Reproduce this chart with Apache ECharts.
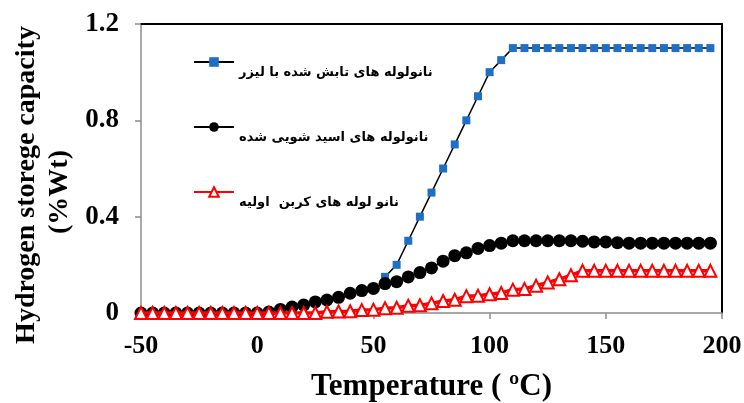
<!DOCTYPE html>
<html>
<head>
<meta charset="utf-8">
<script src="https://cdn.jsdelivr.net/npm/echarts@6/dist/echarts.min.js"></script>
<style>html,body{margin:0;padding:0;background:#fff;}#c{width:744px;height:403px;}</style>
</head>
<body>
<div id="c"></div>
<script>
// Temperature (°C) for every sample point
var temps = [-50,-45,-40,-35,-30,-25,-20,-15,-10,-5,0,5,10,15,20,25,30,35,40,45,50,55,60,65,70,75,80,85,90,95,100,105,110,115,120,125,130,135,140,145,150,155,160,165,170,175,180,185,190,195];
// Laser irradiated nanotubes (starts at 55 °C)
var laserTemps = [55,60,65,70,75,80,85,90,95,100,105,110,115,120,125,130,135,140,145,150,155,160,165,170,175,180,185,190,195];
var laserVals = [0.15,0.2,0.3,0.4,0.5,0.6,0.7,0.8,0.9,1.0,1.05,1.1,1.1,1.1,1.1,1.1,1.1,1.1,1.1,1.1,1.1,1.1,1.1,1.1,1.1,1.1,1.1,1.1,1.1];
// Acid washed nanotubes
var acidVals = [0,0,0,0,0,0,0,0,0,0,0,0.004,0.015,0.025,0.033,0.046,0.054,0.065,0.082,0.093,0.102,0.122,0.13,0.15,0.168,0.187,0.215,0.238,0.25,0.268,0.28,0.29,0.3,0.3,0.3,0.3,0.3,0.3,0.298,0.295,0.295,0.292,0.29,0.29,0.29,0.29,0.29,0.29,0.29,0.29];
// Raw carbon nanotubes
var rawVals = [0,0,0,0,0,0,0,0,0,0,0,0,0,0,0,0,0.005,0.006,0.007,0.012,0.014,0.02,0.022,0.03,0.032,0.04,0.05,0.055,0.07,0.072,0.078,0.083,0.097,0.1,0.113,0.127,0.14,0.157,0.175,0.175,0.175,0.175,0.175,0.175,0.175,0.175,0.175,0.175,0.175,0.175];
var names = ['نانولوله های تابش شده با لیزر','نانولوله های اسید شویی شده','نانو لوله های کربن  اولیه'];
var xTicks = [-50,0,50,100,150,200];
var yTicks = [0,0.4,0.8,1.2];
var xTitle = 'Temperature ( ºC)';
var yTitle1 = 'Hydrogen storege capacity';
var yTitle2 = '(%Wt)';

function pairs(xs, ys){ return xs.map(function(x,i){ return [x, ys[i]]; }); }

var serif = '"Liberation Serif","Times New Roman",serif';
var chart = echarts.init(document.getElementById('c'), null, {renderer:'canvas'});
var legendText = {fontFamily:'"DejaVu Sans",sans-serif', fontWeight:'bold', fontSize:13, color:'#000', lineHeight:22};
function leg(name, top){
  return {data:[name], left:188, top:top, orient:'vertical', itemWidth:40, itemHeight:12, itemGap:0,
    selectedMode:false, textStyle:legendText, formatter:function(n){ return '\n' + n; }};
}
chart.setOption({
  animation:false,
  grid:{left:141, right:22, top:24, bottom:90, containLabel:false, outerBoundsMode:'none'},
  legend:[leg(names[0],35), leg(names[1],100), leg(names[2],165)],
  xAxis:[{
    type:'value', min:xTicks[0], max:xTicks[xTicks.length-1], interval:50,
    name:xTitle, nameLocation:'middle', nameGap:58,
    nameTextStyle:{fontFamily:serif, fontWeight:'bold', fontSize:31, color:'#000'},
    axisLine:{show:true, onZero:false, lineStyle:{color:'#8c8c8c', width:1.5}},
    axisTick:{show:true, inside:false, length:6, lineStyle:{color:'#8c8c8c', width:1.5}},
    axisLabel:{margin:20, fontFamily:serif, fontWeight:'bold', fontSize:26, color:'#000'},
    splitLine:{show:false}
  },{
    type:'value', position:'top', min:xTicks[0], max:xTicks[xTicks.length-1],
    axisLine:{show:true, onZero:false, lineStyle:{color:'#000', width:2}},
    axisTick:{show:false}, axisLabel:{show:false}, splitLine:{show:false}
  }],
  yAxis:[{
    type:'value', min:0, max:1.2, interval:0.4,
    axisLine:{show:true, onZero:false, lineStyle:{color:'#8c8c8c', width:1.5}},
    axisTick:{show:true, inside:false, length:6, lineStyle:{color:'#8c8c8c', width:1.5}},
    axisLabel:{margin:22, fontFamily:serif, fontWeight:'bold', fontSize:27, color:'#000',
      formatter:function(v){ return v===0 ? '0' : v.toFixed(1); }},
    splitLine:{show:false}
  },{
    type:'value', position:'right', min:0, max:1.2,
    axisLine:{show:true, onZero:false, lineStyle:{color:'#000', width:2}},
    axisTick:{show:false}, axisLabel:{show:false}, splitLine:{show:false}
  }],
  graphic:[
    {type:'text', x:27, y:185, rotation:Math.PI/2, style:{text:yTitle1, fontFamily:serif, fontWeight:'bold', fontSize:28, fill:'#000', align:'center', verticalAlign:'middle'}},
    {type:'text', x:60, y:192, rotation:Math.PI/2, style:{text:yTitle2, fontFamily:serif, fontWeight:'bold', fontSize:28, fill:'#000', align:'center', verticalAlign:'middle'}}
  ],
  series:[
    {name:names[0], type:'line', data:pairs(laserTemps, laserVals), symbol:'rect', symbolSize:8,
     itemStyle:{color:'#1f6fc4'}, lineStyle:{color:'#000', width:1.5}, z:3},
    {name:names[1], type:'line', data:pairs(temps, acidVals), symbol:'circle', symbolSize:13,
     itemStyle:{color:'#000'}, lineStyle:{color:'#000', width:1.5}, z:4},
    {name:names[2], type:'line', data:pairs(temps, rawVals), symbol:'triangle', symbolSize:[12,12],
     itemStyle:{color:'#fff', borderColor:'#ff0000', borderWidth:2}, lineStyle:{color:'#ff0000', width:3.5}, z:5}
  ]
});
</script>
</body>
</html>
